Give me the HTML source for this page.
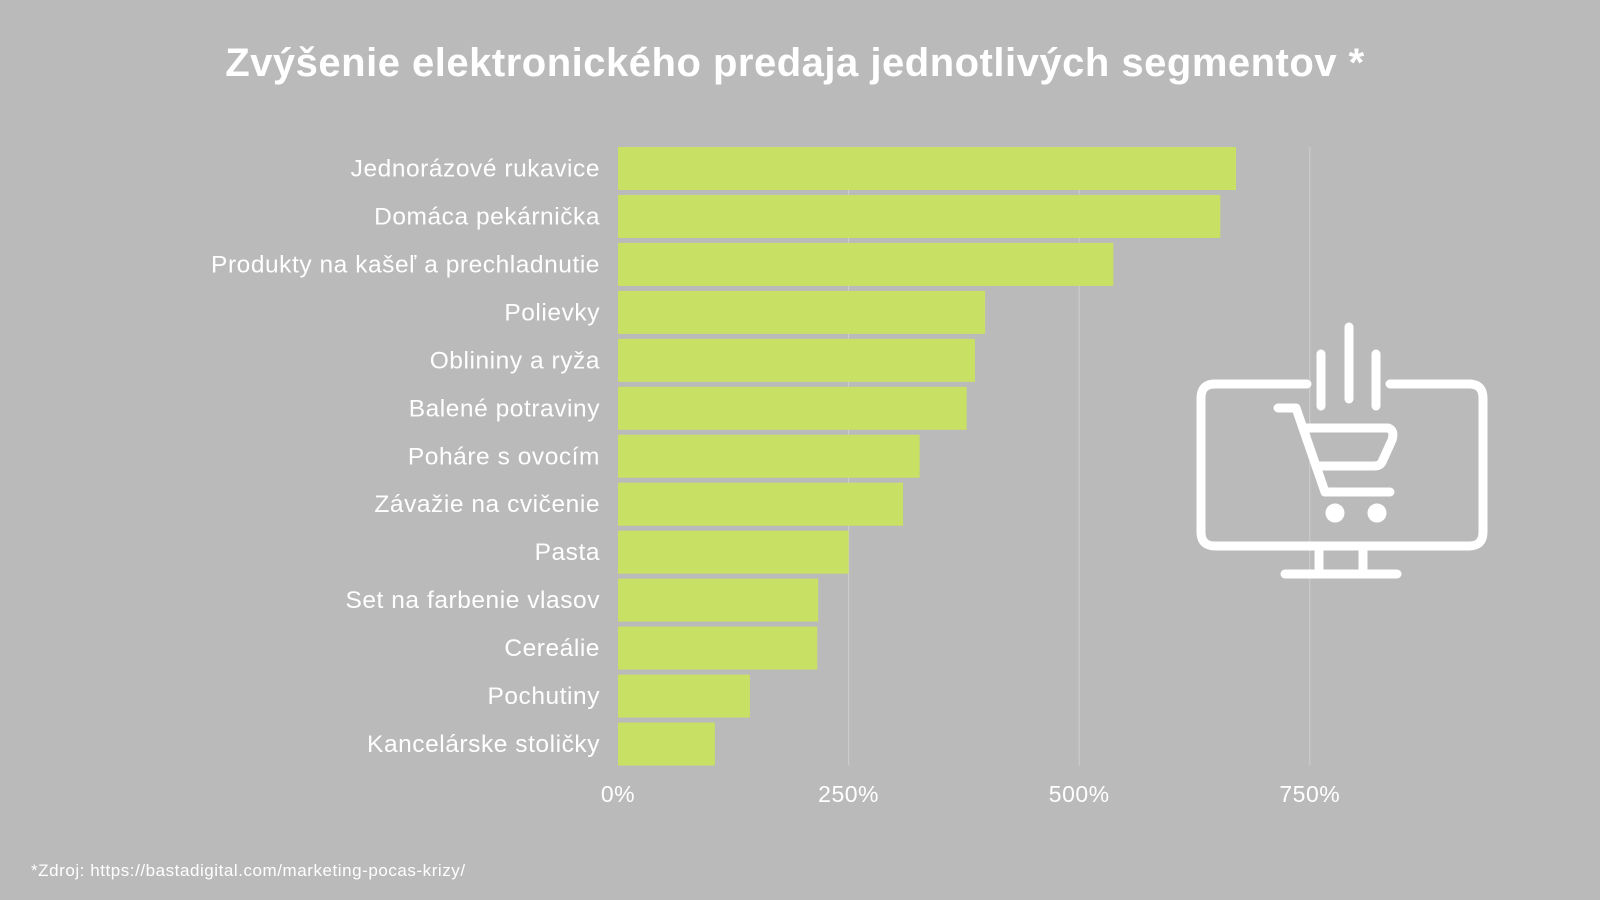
<!DOCTYPE html>
<html><head><meta charset="utf-8"><style>
html,body{margin:0;padding:0;background:#bababa;}
svg{display:block;font-family:"Liberation Sans",sans-serif;}
</style></head><body>
<svg id="chart" width="1600" height="900" viewBox="0 0 1600 900">
<rect width="1600" height="900" fill="#bababa"/>
<text x="795" y="76" text-anchor="middle" font-size="40" font-weight="bold" fill="#fff" letter-spacing="0.5">Zvýšenie elektronického predaja jednotlivých segmentov *</text>
<g id="grid"></g>
<g id="bars"></g>
<g id="labels"></g>
<g id="ticks"></g>
<g fill="none" stroke="#fff" stroke-width="9" stroke-linecap="round" stroke-linejoin="round">
<path d="M1307 384 H1215 Q1201 384 1201 398 V532 Q1201 546 1215 546 H1469 Q1483 546 1483 532 V398 Q1483 384 1469 384 H1390"/>
<line x1="1321" y1="354" x2="1321" y2="406"/>
<line x1="1349" y1="327" x2="1349" y2="399"/>
<line x1="1376" y1="354" x2="1376" y2="406"/>
<path d="M1278 408 H1296 L1325 492 H1390"/>
<path d="M1306 428 H1388 Q1395 430 1392 440 L1382 462 Q1380 466 1374 466 H1316"/>
<line x1="1319" y1="550" x2="1319" y2="571"/>
<line x1="1363" y1="550" x2="1363" y2="571"/>
<line x1="1285" y1="574" x2="1397" y2="574"/>
<circle cx="1335" cy="513" r="5" fill="#fff"/>
<circle cx="1377" cy="513" r="5" fill="#fff"/>
</g>
<text x="31" y="876" font-size="17" fill="#fff" letter-spacing="0.55">*Zdroj: https://bastadigital.com/marketing-pocas-krizy/</text>
</svg>
<script>
const categories=["Jednorázové rukavice","Domáca pekárnička","Produkty na kašeľ a prechladnutie","Polievky","Oblininy a ryža","Balené potraviny","Poháre s ovocím","Závažie na cvičenie","Pasta","Set na farbenie vlasov","Cereálie","Pochutiny","Kancelárske stoličky"];
const values=[670,653,537,398,387,378,327,309,250,217,216,143,105];
const tickValues=[0,250,500,750];
const tickLabels=["0%","250%","500%","750%"];
const NS="http://www.w3.org/2000/svg";
const x0=618,pxPer=230.6/250,top0=147,pitch=47.96,bh=43;
function xs(v){return x0+v*pxPer;}
function ys(i){return top0+i*pitch;}
function mk(t,a,p){const e=document.createElementNS(NS,t);for(const k in a)e.setAttribute(k,a[k]);p.appendChild(e);return e;}
const g=document.getElementById('grid'),b=document.getElementById('bars'),l=document.getElementById('labels'),t=document.getElementById('ticks');
tickValues.forEach((v,i)=>{
 if(v>0){const ln=mk('line',{x1:xs(v),x2:xs(v),y1:ys(0),y2:ys(categories.length-1)+bh,stroke:'#cfcfcf','stroke-width':1},g);
 
 }
 const tx=mk('text',{x:xs(v),y:802,'text-anchor':'middle','font-size':23,fill:'#fff','letter-spacing':0.5},t);
 tx.textContent=tickLabels[i];
 
 
});
categories.forEach((c,i)=>{
 const r=mk('rect',{x:x0,y:ys(i),width:xs(values[i])-x0,height:bh,fill:'#c8e064'},b);
 
 
 const tx=mk('text',{x:600,y:ys(i)+bh/2+8,'text-anchor':'end','font-size':24.5,fill:'#fff','letter-spacing':0.55},l);
 tx.textContent=c;
 
 
});
</script>
</body></html>
